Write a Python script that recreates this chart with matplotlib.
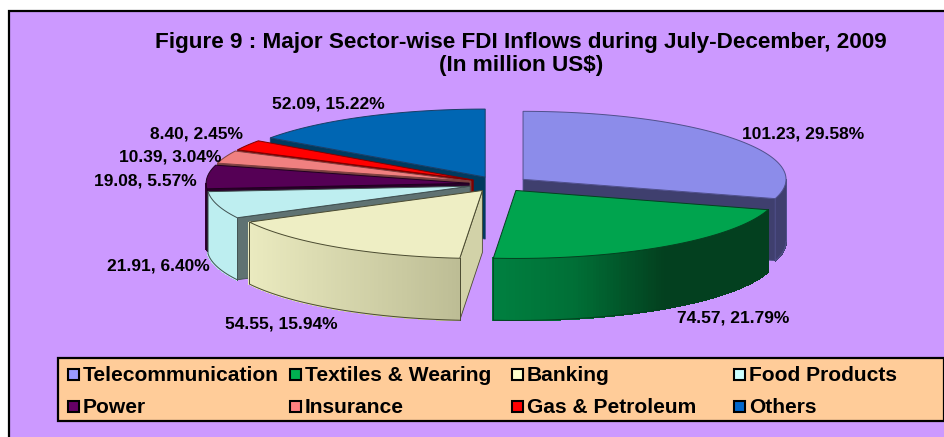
import numpy as np
import matplotlib
matplotlib.use("Agg")
import matplotlib.pyplot as plt
from matplotlib.colors import LinearSegmentedColormap
from matplotlib.patches import Polygon, Rectangle

plt.rcParams['font.family'] = ['Liberation Sans', 'DejaVu Sans']

# datos
sectors = ["Telecommunication", "Textiles & Wearing", "Banking", "Food Products",
           "Power", "Insurance", "Gas & Petroleum", "Others"]
values = [101.23, 74.57, 54.55, 21.91, 19.08, 10.39, 8.40, 52.09]
percents = ["29.58", "21.79", "15.94", "6.40", "5.57", "3.04", "2.45", "15.22"]

top_colors = ["#8C8CEA", "#00A44E", "#EEEEC4", "#BEEEF0", "#550055", "#F08080", "#FF0000", "#0066B3"]
cut_colors = ["#3F3F6E", "#03401F", "#D2D2A8", "#5F7272", "#2A002A", "#784040", "#7F0000", "#003A5E"]
wall_stops = [
    [(0, "#3F3F6E"), (1, "#3F3F6E")],
    [(0, "#008040"), (0.3, "#006F36"), (0.62, "#03401F"), (1, "#03401F")],
    [(0, "#EAEABF"), (1, "#BDBD95")],
    [(0, "#BDEEF0"), (1, "#BDEEF0")],
    [(0, "#3A003A"), (1, "#3A003A")],
    [(0, "#784040"), (1, "#784040")],
    [(0, "#7F0000"), (1, "#7F0000")],
    [(0, "#003A5E"), (1, "#003A5E")],
]
legend_colors = ["#9999FF", "#00B050", "#FFFFCC", "#CCFFFF", "#660066", "#FF8080", "#FF0000", "#0066CC"]
edge_colors = ["#50508C", "#04401F", "#4A4A30", "#405050", "#200020", "#804040", "#800000", "#1A3E66"]

label_pos = [(803, 134), (733, 318), (281, 324), (158, 266), (145, 181), (170, 157), (197, 134), (328, 104)]

# geometria del pastel en pixeles
CX, CY = 499, 184
RX, RY = 263, 68
DEPTH = 62
EXPLODE_X, EXPLODE_Y = 30, 7.8


def rim(x0, y0, theta):
    return x0 + RX * np.sin(theta), y0 - RY * np.cos(theta)


fig = plt.figure(figsize=(9.45, 4.37), dpi=100, facecolor="white")
ax = fig.add_axes([0, 0, 1, 1])
ax.set_xlim(0, 945)
ax.set_ylim(437, 0)
ax.axis("off")

# fondo con marco
ax.add_patch(Rectangle((8.5, 10.5), 950, 440, facecolor="#CC99FF", edgecolor="black", lw=1.6))

ax.text(521, 42.5, "Figure 9 : Major Sector-wise FDI Inflows during July-December, 2009",
        ha="center", va="center", fontsize=16.2, fontweight="bold")
ax.text(521, 66, "(In million US$)", ha="center", va="center", fontsize=16.2, fontweight="bold")

fractions = np.array(values) / sum(values)
ends = np.cumsum(fractions) * 2 * np.pi
starts = ends - fractions * 2 * np.pi
mids = (starts + ends) / 2

# de atras hacia adelante
for i in np.argsort(-np.cos(mids)):
    ax0 = CX + EXPLODE_X * np.sin(mids[i])
    ay0 = CY - EXPLODE_Y * np.cos(mids[i])
    t0, t1 = starts[i], ends[i]

    # caras de corte
    for t, side in ((t0, 1), (t1, -1)):
        if side * np.sin(t) < -1e-6:
            rx, ry = rim(ax0, ay0, t)
            ax.add_patch(Polygon([(ax0, ay0), (rx, ry), (rx, ry + DEPTH), (ax0, ay0 + DEPTH)],
                                 facecolor=cut_colors[i], edgecolor=edge_colors[i], lw=0.6))

    # pared exterior con degradado
    w0, w1 = max(t0, np.pi / 2), min(t1, 3 * np.pi / 2)
    if w1 > w0:
        cmap = LinearSegmentedColormap.from_list("wall", wall_stops[i])
        th = np.linspace(w0, w1, 120)
        xs, ys = rim(ax0, ay0, th)
        for k in range(len(th) - 1):
            frac = (xs[k] - xs.min()) / max(xs.max() - xs.min(), 1)
            col = cmap(frac)
            ax.add_patch(Polygon([(xs[k], ys[k]), (xs[k + 1], ys[k + 1]),
                                  (xs[k + 1], ys[k + 1] + DEPTH), (xs[k], ys[k] + DEPTH)],
                                 facecolor=col, edgecolor=col, lw=0.8, antialiased=False))
        outline = list(zip(xs, ys + DEPTH)) + [(xs[-1], ys[-1])]
        ax.plot(*zip(*outline), color=edge_colors[i], lw=0.7)
        ax.plot([xs[0], xs[0]], [ys[0], ys[0] + DEPTH], color=edge_colors[i], lw=0.7)

    # cara superior
    n = max(int((t1 - t0) * 60), 4)
    th = np.linspace(t0, t1, n)
    xs, ys = rim(ax0, ay0, th)
    ax.add_patch(Polygon([(ax0, ay0)] + list(zip(xs, ys)), closed=True,
                         facecolor=top_colors[i], edgecolor=edge_colors[i], lw=0.7))

# etiquetas de datos
for v, p, (lx, ly) in zip(values, percents, label_pos):
    ax.text(lx, ly, f"{v:.2f}, {p}%", ha="center", va="center", fontsize=12.5, fontweight="bold")

# leyenda
ax.add_patch(Rectangle((57.5, 357.5), 886, 63.5, facecolor="#FFCC99", edgecolor="black", lw=1.6))
col_x = [67, 289, 511, 733]
row_y = [374, 406]
for i, name in enumerate(sectors):
    x = col_x[i % 4]
    y = row_y[i // 4]
    ax.add_patch(Rectangle((x + 0.5, y - 5.5), 11, 11, facecolor=legend_colors[i], edgecolor="black", lw=1.5))
    ax.text(x + 16, y + 1.5, name, ha="left", va="center", fontsize=15.1, fontweight="bold")

fig.savefig("out.png", dpi=100)
